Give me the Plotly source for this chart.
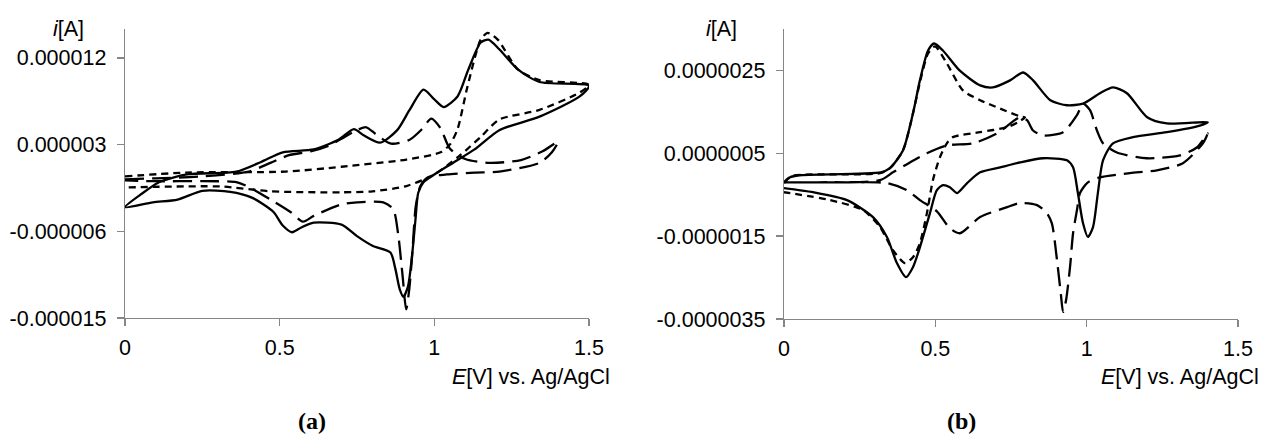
import plotly.graph_objects as go

# ---------------- data (E in V, current in microamps) ----------------
# Panel (a)
A_SOLID_E = [0.0, 0.05, 0.11, 0.20, 0.36, 0.44, 0.51, 0.61, 0.69, 0.74, 0.77, 0.825, 0.88, 0.92, 0.965, 1.0, 1.03, 1.075, 1.11, 1.15, 1.175, 1.21, 1.27, 1.34, 1.5,
             1.47, 1.34, 1.21, 1.13, 1.06, 1.0, 0.965, 0.948, 0.939, 0.929, 0.915, 0.900, 0.888, 0.874, 0.858, 0.80, 0.75, 0.70, 0.61, 0.57, 0.54, 0.51, 0.48, 0.41, 0.34, 0.25, 0.17, 0.09, 0.0]
A_SOLID_I = [-3.5, -2.2, -0.9, -0.1, 0.2, 1.2, 2.2, 2.5, 3.5, 4.6, 4.0, 3.2, 4.5, 6.6, 8.7, 7.7, 6.9, 8.0, 10.8, 13.6, 13.9, 12.9, 10.8, 9.5, 9.1,
             8.0, 5.9, 4.5, 2.5, 1.1, -0.1, -0.9, -2.0, -4.8, -8.2, -11.7, -12.8, -12.0, -9.9, -8.2, -7.5, -6.5, -5.3, -5.1, -5.6, -6.1, -5.4, -4.0, -2.5, -1.9, -1.8, -2.7, -3.0, -3.5]

A_SHORT_E = [0.0, 0.2, 0.52, 0.70, 0.91, 1.02, 1.05, 1.075, 1.107, 1.15, 1.172, 1.205, 1.27, 1.34, 1.5,
             1.47, 1.34, 1.21, 1.15, 1.08, 1.0, 0.91, 0.80, 0.70, 0.47, 0.31, 0.0]
A_SHORT_I = [-0.3, 0.1, 0.2, 0.7, 1.45, 2.2, 3.0, 4.6, 9.0, 13.9, 14.6, 13.9, 10.8, 9.7, 9.2,
             8.4, 6.6, 5.6, 3.8, 1.8, -0.1, -1.3, -1.85, -1.95, -1.85, -1.35, -1.45]

A_LONG_E = [0.0, 0.10, 0.25, 0.40, 0.47, 0.53, 0.60, 0.66, 0.71, 0.75, 0.78, 0.81, 0.86, 0.92, 0.96, 0.99, 1.02, 1.05, 1.10, 1.18, 1.28, 1.35, 1.40,
            1.38, 1.34, 1.21, 1.13, 1.04, 0.98, 0.955, 0.94, 0.929, 0.919, 0.909, 0.897, 0.883, 0.867, 0.835, 0.75, 0.70, 0.61, 0.575, 0.535, 0.47, 0.40, 0.36, 0.25, 0.09, 0.0]
A_LONG_I = [-0.6, -0.5, -0.3, 0.2, 1.1, 1.9, 2.3, 2.9, 3.8, 4.5, 4.8, 4.1, 3.1, 3.5, 4.6, 5.7, 4.7, 2.6, 1.5, 1.1, 1.4, 2.3, 3.3,
            2.2, 1.1, 0.2, 0.1, -0.1, -0.4, -1.3, -3.4, -8.2, -12.0, -14.1, -10.5, -6.3, -3.7, -3.0, -3.0, -3.2, -4.4, -5.0, -4.0, -2.7, -1.4, -0.9, -0.8, -0.8, -0.7]

# Panel (b)
B_SOLID_E = [0.0, 0.02, 0.05, 0.32, 0.35, 0.393, 0.426, 0.449, 0.476, 0.496, 0.525, 0.58, 0.648, 0.69, 0.747, 0.79, 0.823, 0.88, 0.935, 0.988, 1.044, 1.087, 1.133, 1.2, 1.265, 1.4,
             1.374, 1.265, 1.153, 1.087, 1.054, 1.037, 1.021, 1.004, 0.988, 0.971, 0.955, 0.935, 0.856, 0.78, 0.714, 0.648, 0.605, 0.572, 0.548, 0.525, 0.505, 0.482, 0.449, 0.426, 0.403, 0.373, 0.34, 0.294, 0.208, 0.096, 0.0]
B_SOLID_I = [-0.22, -0.08, -0.03, 0.04, 0.14, 0.57, 1.46, 2.26, 2.98, 3.15, 2.98, 2.5, 2.14, 2.09, 2.26, 2.45, 2.26, 1.78, 1.66, 1.70, 1.95, 2.09, 1.95, 1.37, 1.22, 1.25,
             1.17, 1.01, 0.89, 0.74, 0.33, -0.46, -1.28, -1.52, -1.19, -0.46, 0.16, 0.33, 0.38, 0.28, 0.16, 0.04, -0.22, -0.46, -0.32, -0.27, -0.39, -0.95, -1.77, -2.25, -2.49, -2.15, -1.52, -1.04, -0.63, -0.44, -0.34]

B_SHORT_E = [0.0, 0.026, 0.317, 0.35, 0.393, 0.426, 0.449, 0.476, 0.499, 0.538, 0.591, 0.648, 0.714, 0.78, 0.796,
             0.773, 0.737, 0.648, 0.558, 0.538, 0.515, 0.492, 0.472, 0.449, 0.426, 0.40, 0.36, 0.317, 0.261, 0.152, 0.0]
B_SHORT_I = [-0.20, -0.05, 0.02, 0.14, 0.57, 1.46, 2.21, 2.91, 3.08, 2.67, 2.02, 1.78, 1.58, 1.39, 1.37,
             1.25, 1.13, 1.01, 0.89, 0.74, 0.40, -0.15, -0.95, -1.67, -2.01, -2.15, -1.84, -1.28, -0.87, -0.63, -0.44]

B_LONG_E = [0.0, 0.317, 0.36, 0.40, 0.472, 0.538, 0.624, 0.704, 0.78, 0.803, 0.823, 0.856, 0.922, 0.968, 0.988, 1.011, 1.034, 1.054, 1.10, 1.199, 1.308, 1.364, 1.40,
            1.384, 1.318, 1.232, 1.143, 1.044, 1.004, 0.978, 0.968, 0.955, 0.945, 0.932, 0.922, 0.915, 0.902, 0.885, 0.869, 0.836, 0.78, 0.737, 0.648, 0.581, 0.548, 0.505, 0.449, 0.406, 0.34, 0.208, 0.0]
B_LONG_I = [-0.20, -0.15, 0.04, 0.21, 0.50, 0.69, 0.74, 0.98, 1.37, 1.30, 1.05, 0.93, 1.01, 1.42, 1.70, 1.54, 1.05, 0.74, 0.52, 0.38, 0.45, 0.64, 0.98,
            0.74, 0.26, 0.09, 0.02, -0.08, -0.20, -0.46, -0.87, -1.43, -2.25, -3.04, -3.33, -2.92, -2.08, -1.19, -0.95, -0.75, -0.70, -0.80, -1.04, -1.43, -1.31, -0.90, -0.63, -0.39, -0.22, -0.20, -0.20]

X_TICKS = [0, 0.5, 1, 1.5]
X_TICKTEXT = ["0", "0.5", "1", "1.5"]
A_Y_TICKS = [-15, -6, 3, 12]
A_Y_TICKTEXT = ["-0.000015", "-0.000006", "0.000003", "0.000012"]
B_Y_TICKS = [-3.5, -1.5, 0.5, 2.5]
B_Y_TICKTEXT = ["-0.0000035", "-0.0000015", "0.0000005", "0.0000025"]

# ---------------- figure ----------------
W, H = 1262, 441
FONT = "Liberation Sans, Arial, sans-serif"
FS = 21.5
LW = 2.3
SOLID = "solid"
SHORT = "7px,5px"
LONG = "19px,8px"

fig = go.Figure()

def add(x, y, dash, xa, ya):
    fig.add_trace(go.Scatter(x=x, y=y, mode="lines", xaxis=xa, yaxis=ya,
                             line=dict(color="black", width=LW, dash=dash, shape="spline", smoothing=0.7),
                             showlegend=False, hoverinfo="skip"))

add(A_SHORT_E, A_SHORT_I, SHORT, "x", "y")
add(A_LONG_E, A_LONG_I, LONG, "x", "y")
add(A_SOLID_E, A_SOLID_I, SOLID, "x", "y")
add(B_SHORT_E, B_SHORT_I, SHORT, "x2", "y2")
add(B_LONG_E, B_LONG_I, LONG, "x2", "y2")
add(B_SOLID_E, B_SOLID_I, SOLID, "x2", "y2")

AXCOL = "#868686"
common = dict(showline=True, linecolor=AXCOL, linewidth=1.3, ticks="outside", ticklen=7,
              tickcolor=AXCOL, tickwidth=1.3, showgrid=False, zeroline=False, automargin=False,
              tickfont=dict(family=FONT, size=FS, color="black"))

fig.update_layout(
    width=W, height=H, margin=dict(l=0, r=0, t=0, b=0),
    paper_bgcolor="white", plot_bgcolor="white",
    xaxis=dict(domain=[125 / W, 589 / W], range=[0, 1.5], tickvals=X_TICKS, ticktext=X_TICKTEXT,
               anchor="y", ticklabelstandoff=3, **common),
    yaxis=dict(domain=[1 - 318 / H, 1 - 29 / H], range=[-15, 15], tickvals=A_Y_TICKS, ticktext=A_Y_TICKTEXT,
               anchor="x", ticklabelstandoff=6, **common),
    xaxis2=dict(domain=[784 / W, 1238 / W], range=[0, 1.5], tickvals=X_TICKS, ticktext=X_TICKTEXT,
                anchor="y2", ticklabelstandoff=3, **common),
    yaxis2=dict(domain=[1 - 319 / H, 1 - 29 / H], range=[-3.5, 3.5], tickvals=B_Y_TICKS, ticktext=B_Y_TICKTEXT,
                anchor="x2", ticklabelstandoff=6, **common),
)

def ann(text, x, y, xanchor="center", size=FS, family=FONT):
    fig.add_annotation(text=text, x=x / W, y=1 - y / H, xref="paper", yref="paper",
                       xanchor=xanchor, yanchor="middle", showarrow=False,
                       font=dict(family=family, size=size, color="black"))

ann("<i>i</i>[A]", 68, 29)
ann("<i>i</i>[A]", 722, 29)
ann("<i>E</i>[V] vs. Ag/AgCl", 612, 377, xanchor="right")
ann("<i>E</i>[V] vs. Ag/AgCl", 1261, 377, xanchor="right")
ann("<b>(a)</b>", 312, 421, size=24, family="Liberation Serif, serif")
ann("<b>(b)</b>", 961, 421, size=24, family="Liberation Serif, serif")

fig.write_html("out.html", config={"displayModeBar": False, "staticPlot": True},
               post_script="document.body.style.margin='0';document.body.style.overflow='hidden';")
